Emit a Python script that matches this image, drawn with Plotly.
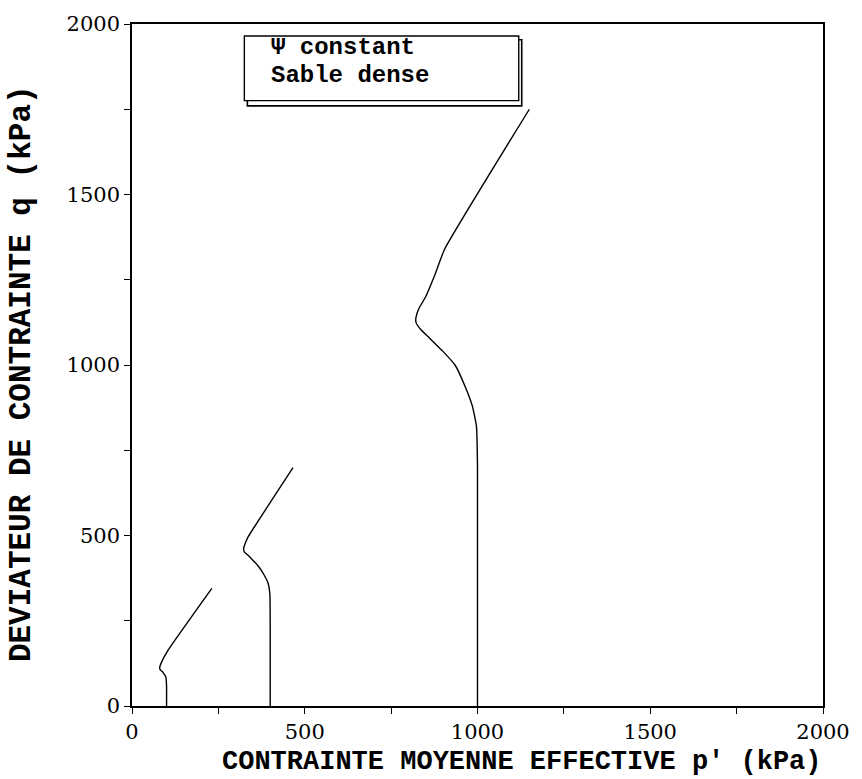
import plotly.graph_objects as go

# Stress paths (p' in kPa, q in kPa)
p1 = [100, 100, 98, 90, 82, 80, 84, 104, 231]
q1 = [0, 60, 85, 98, 106, 112, 125, 163, 345]

p2 = [400, 400, 399, 394, 382, 368, 340, 325, 323, 327, 335, 466]
q2 = [0, 250, 329, 360, 385, 407, 438, 452, 462, 475, 494, 699]

p3 = [1000, 1000, 997, 985, 965, 935, 900, 860, 835, 822, 822, 830, 850, 875, 905, 1150]
q3 = [0, 700, 820, 880, 935, 1000, 1040, 1080, 1105, 1125, 1140, 1165, 1200, 1260, 1340, 1750]

tick_vals = [0, 250, 500, 750, 1000, 1250, 1500, 1750, 2000]
tick_text = ["0", "", "500", "", "1000", "", "1500", "", "2000"]

x_title = "CONTRAINTE MOYENNE EFFECTIVE p' (kPa)"
y_title = "DEVIATEUR DE CONTRAINTE q (kPa)"
legend_lines = ["\u03a8 constant", "Sable dense"]

fig = go.Figure()
for px_, qy_ in [(p1, q1), (p2, q2), (p3, q3)]:
    fig.add_trace(go.Scatter(x=px_, y=qy_, mode="lines",
                             line=dict(color="black", width=1.4, shape="spline", smoothing=0.4),
                             showlegend=False, hoverinfo="skip"))

axis_common = dict(
    range=[0, 2000], tickvals=tick_vals, ticktext=tick_text,
    showgrid=False, zeroline=False, showline=True, linecolor="black", linewidth=1.6,
    mirror=True, ticks="outside", ticklen=6, tickwidth=1.4, tickcolor="black",
    tickfont=dict(family="DejaVu Serif", size=21, color="black"),
)
fig.update_xaxes(**axis_common)
fig.update_yaxes(**axis_common)

# legend box with shadow
fig.add_shape(type="rect", xref="paper", yref="paper",
              x0=0.1670, x1=0.5640, y0=0.8800, y1=0.9770,
              line=dict(color="black", width=1.6), fillcolor="white", layer="above")
fig.add_shape(type="rect", xref="paper", yref="paper",
              x0=0.1626, x1=0.5597, y0=0.8876, y1=0.9825,
              line=dict(color="black", width=1.4), fillcolor="white", layer="above")

legend_font = dict(family="Liberation Mono", size=24, color="black", weight="bold")
fig.add_annotation(text=legend_lines[0], xref="paper", yref="paper",
                   x=0.1986, y=(706 - 45) / 685, xanchor="left", yanchor="middle",
                   showarrow=False, font=legend_font)
fig.add_annotation(text=legend_lines[1], xref="paper", yref="paper",
                   x=0.1986, y=(706 - 73) / 685, xanchor="left", yanchor="middle",
                   showarrow=False, font=legend_font)

fig.add_annotation(text=x_title, xref="paper", yref="paper",
                   x=(524 - 132) / 695, y=(706 - 762) / 685, xanchor="center", yanchor="middle",
                   showarrow=False, font=dict(family="Liberation Mono", size=27, color="black", weight="bold"))
fig.add_annotation(text=y_title, xref="paper", yref="paper", textangle=-90,
                   x=(21 - 132) / 695, y=(706 - 372) / 685, xanchor="center", yanchor="middle",
                   showarrow=False, font=dict(family="Liberation Mono", size=31, color="black", weight="bold"))

fig.update_layout(
    width=862, height=779,
    margin=dict(l=132, r=35, t=21, b=73),
    plot_bgcolor="white", paper_bgcolor="white",
)

fig.write_html("out.html", config={"displayModeBar": False},
               post_script="document.body.style.margin='0';document.body.style.overflow='hidden';")
